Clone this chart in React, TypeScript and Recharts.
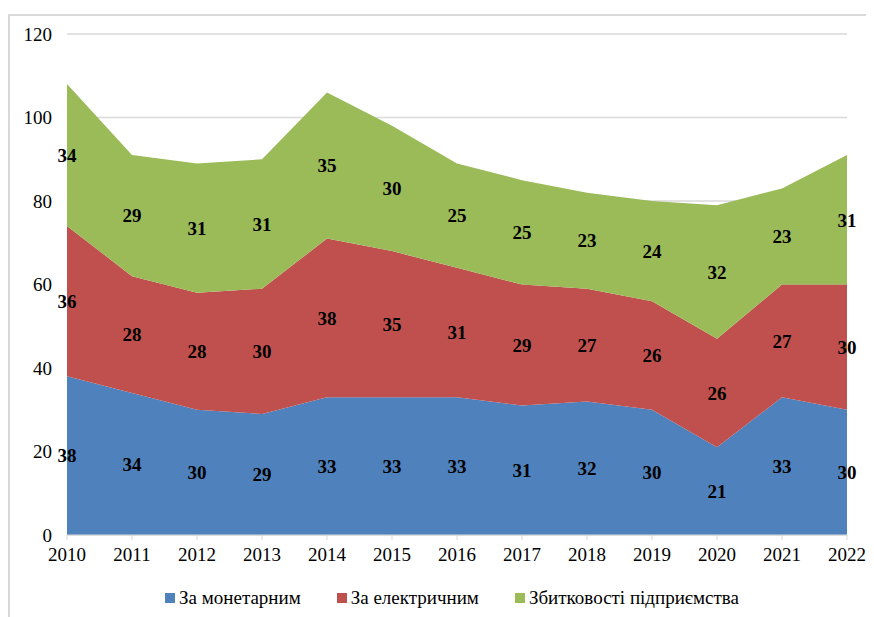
import React from "react"
import { Area, AreaChart, CartesianGrid, Legend, LabelList, Line, XAxis, YAxis } from "recharts"

const years = ["2010", "2011", "2012", "2013", "2014", "2015", "2016", "2017", "2018", "2019", "2020", "2021", "2022"]
const monetary = [38, 34, 30, 29, 33, 33, 33, 31, 32, 30, 21, 33, 30]
const electric = [36, 28, 28, 30, 38, 35, 31, 29, 27, 26, 26, 27, 30]
const losses = [34, 29, 31, 31, 35, 30, 25, 25, 23, 24, 32, 23, 31]
const yTicks = [0, 20, 40, 60, 80, 100, 120]

const seriesNames = ["За монетарним", "За електричним", "Збитковості підприємства"]
const colors = ["#4f81bd", "#c0504d", "#9bbb59"]

const FONT = "Liberation Serif, DejaVu Serif, serif"

// midpoints of each stacked band, used only to place the value labels
const data = years.map((year, i) => ({
  year,
  monetary: monetary[i],
  electric: electric[i],
  losses: losses[i],
  monetaryMid: monetary[i] / 2,
  electricMid: monetary[i] + electric[i] / 2,
  lossesMid: monetary[i] + electric[i] + losses[i] / 2,
}))

const labelStyle = { fontFamily: FONT, fontSize: 19, fontWeight: 700, fill: "#000" }

function ChartLegend() {
  return (
    <div
      style={{
        display: "flex",
        alignItems: "center",
        justifyContent: "center",
        height: 36,
        paddingLeft: 22,
        fontFamily: FONT,
        fontSize: 19,
        color: "#000",
        boxSizing: "border-box",
      }}
    >
      {seriesNames.map((name, i) => (
        <div
          key={name}
          style={{ display: "flex", alignItems: "center", marginRight: i < seriesNames.length - 1 ? 36 : 0 }}
        >
          <span style={{ width: 10, height: 10, background: colors[i], marginRight: 4, display: "inline-block" }} />
          <span style={{ whiteSpace: "nowrap" }}>{name}</span>
        </div>
      ))}
    </div>
  )
}

export default function App() {
  return (
    <div style={{ position: "relative", width: 866, height: 603, marginTop: 6, fontFamily: FONT }}>
      <div
        style={{
          position: "absolute",
          inset: 0,
          borderTop: "2px solid #d9d9d9",
          borderLeft: "2px solid #d9d9d9",
          boxSizing: "border-box",
        }}
      />
      <AreaChart
        width={866}
        height={603}
        data={data}
        margin={{ top: 20, right: 27, left: 0, bottom: 1 }}
        style={{ position: "absolute", left: 0, top: 0, fontFamily: FONT }}
      >
        <CartesianGrid vertical={false} stroke="#d9d9d9" strokeWidth={1.5} />
        <XAxis
          dataKey="year"
          height={45}
          stroke="#d9d9d9"
          tickSize={5}
          tickMargin={8}
          tick={{ fill: "#000", fontFamily: FONT, fontSize: 19 }}
        />
        <YAxis
          width={59}
          domain={[0, 120]}
          ticks={yTicks}
          axisLine={false}
          tickLine={false}
          tickSize={0}
          tickMargin={15}
          tick={{ fill: "#000", fontFamily: FONT, fontSize: 19 }}
        />
        <Legend verticalAlign="bottom" wrapperStyle={{ left: 0, width: 866 }} content={() => <ChartLegend />} />
        <Area
          type="linear"
          dataKey="monetary"
          stackId="a"
          stroke="none"
          fill={colors[0]}
          fillOpacity={1}
          name={seriesNames[0]}
          isAnimationActive={false}
        />
        <Area
          type="linear"
          dataKey="electric"
          stackId="a"
          stroke="none"
          fill={colors[1]}
          fillOpacity={1}
          name={seriesNames[1]}
          isAnimationActive={false}
        />
        <Area
          type="linear"
          dataKey="losses"
          stackId="a"
          stroke="none"
          fill={colors[2]}
          fillOpacity={1}
          name={seriesNames[2]}
          isAnimationActive={false}
        />
        <Line dataKey="monetaryMid" stroke="none" dot={false} legendType="none" isAnimationActive={false}>
          <LabelList dataKey="monetary" position="center" style={labelStyle} />
        </Line>
        <Line dataKey="electricMid" stroke="none" dot={false} legendType="none" isAnimationActive={false}>
          <LabelList dataKey="electric" position="center" style={labelStyle} />
        </Line>
        <Line dataKey="lossesMid" stroke="none" dot={false} legendType="none" isAnimationActive={false}>
          <LabelList dataKey="losses" position="center" style={labelStyle} />
        </Line>
      </AreaChart>
    </div>
  )
}
